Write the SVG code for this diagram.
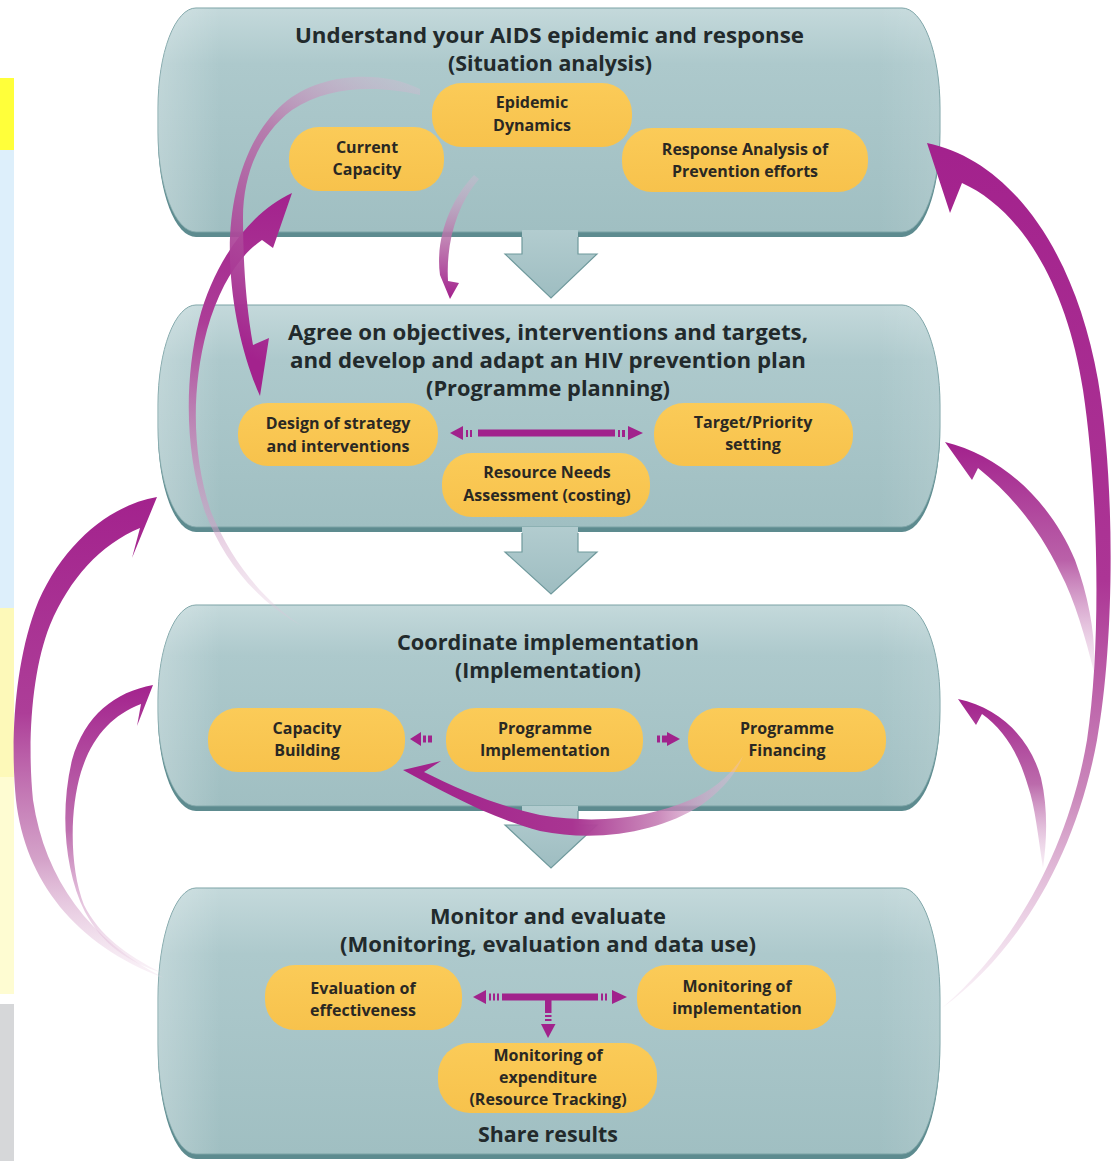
<svg xmlns="http://www.w3.org/2000/svg" width="1111" height="1161" viewBox="0 0 1111 1161">
<defs>
<linearGradient id="boxg" x1="0" y1="0" x2="0" y2="1">
<stop offset="0" stop-color="#c4d9db"/>
<stop offset="0.25" stop-color="#adc9cc"/>
<stop offset="1" stop-color="#a0bfc2"/>
</linearGradient>
<linearGradient id="boxh" x1="0" y1="0" x2="1" y2="0">
<stop offset="0" stop-color="#ffffff" stop-opacity="0.25"/>
<stop offset="0.08" stop-color="#ffffff" stop-opacity="0"/>
<stop offset="0.92" stop-color="#ffffff" stop-opacity="0"/>
<stop offset="1" stop-color="#ffffff" stop-opacity="0.12"/>
</linearGradient>
<linearGradient id="arrg" x1="0" y1="0" x2="0" y2="1">
<stop offset="0" stop-color="#b2cccf"/>
<stop offset="1" stop-color="#9ebdc1"/>
</linearGradient>
<linearGradient id="pillg" x1="0" y1="0" x2="0" y2="1">
<stop offset="0" stop-color="#fbcb58"/>
<stop offset="1" stop-color="#f7c24c"/>
</linearGradient>
<linearGradient id="gA" gradientUnits="userSpaceOnUse" x1="0" y1="150" x2="0" y2="1010">
<stop offset="0" stop-color="#a3228d"/>
<stop offset="0.5" stop-color="#ac3595"/>
<stop offset="0.75" stop-color="#c173af" stop-opacity="0.85"/>
<stop offset="1" stop-color="#edd3e6" stop-opacity="0.3"/>
</linearGradient>
<linearGradient id="gB" gradientUnits="userSpaceOnUse" x1="0" y1="445" x2="0" y2="675">
<stop offset="0" stop-color="#a3228d"/>
<stop offset="0.5" stop-color="#b24f9f" stop-opacity="0.9"/>
<stop offset="1" stop-color="#e6c6df" stop-opacity="0.3"/>
</linearGradient>
<linearGradient id="gC" gradientUnits="userSpaceOnUse" x1="0" y1="700" x2="0" y2="868">
<stop offset="0" stop-color="#a3228d"/>
<stop offset="0.5" stop-color="#b45aa2" stop-opacity="0.9"/>
<stop offset="1" stop-color="#e6c6df" stop-opacity="0.3"/>
</linearGradient>
<linearGradient id="gD" gradientUnits="userSpaceOnUse" x1="0" y1="495" x2="0" y2="980">
<stop offset="0" stop-color="#a3228d"/>
<stop offset="0.45" stop-color="#ad3e98"/>
<stop offset="0.75" stop-color="#c98abb" stop-opacity="0.8"/>
<stop offset="1" stop-color="#efd9e9" stop-opacity="0.3"/>
</linearGradient>
<linearGradient id="gE" gradientUnits="userSpaceOnUse" x1="0" y1="685" x2="0" y2="975">
<stop offset="0" stop-color="#a3228d"/>
<stop offset="0.5" stop-color="#b75fa6" stop-opacity="0.9"/>
<stop offset="1" stop-color="#efd9e9" stop-opacity="0.3"/>
</linearGradient>
<linearGradient id="gF" gradientUnits="userSpaceOnUse" x1="0" y1="193" x2="0" y2="625">
<stop offset="0" stop-color="#a3228d"/>
<stop offset="0.3" stop-color="#ac3d97"/>
<stop offset="0.55" stop-color="#c07ab1" stop-opacity="0.8"/>
<stop offset="1" stop-color="#e2c6dc" stop-opacity="0.25"/>
</linearGradient>
<linearGradient id="gG" gradientUnits="userSpaceOnUse" x1="420" y1="90" x2="255" y2="360">
<stop offset="0" stop-color="#dcb8d4" stop-opacity="0.3"/>
<stop offset="0.35" stop-color="#b872a9" stop-opacity="0.85"/>
<stop offset="1" stop-color="#a3228d"/>
</linearGradient>
<linearGradient id="gH" gradientUnits="userSpaceOnUse" x1="0" y1="175" x2="0" y2="298">
<stop offset="0" stop-color="#dcb8d4" stop-opacity="0.3"/>
<stop offset="0.5" stop-color="#b872a9" stop-opacity="0.85"/>
<stop offset="1" stop-color="#a3228d"/>
</linearGradient>
<linearGradient id="gI" gradientUnits="userSpaceOnUse" x1="400" y1="0" x2="745" y2="0">
<stop offset="0" stop-color="#a1218b"/>
<stop offset="0.5" stop-color="#a93592"/>
<stop offset="0.75" stop-color="#c277b0" stop-opacity="0.85"/>
<stop offset="1" stop-color="#e8c6df" stop-opacity="0.3"/>
</linearGradient>
<style>
.shadow{fill:#5d8b8f}
.box{fill:url(#boxg);stroke:#7aa2a5;stroke-width:1}
.hl{fill:url(#boxh)}
.pill{fill:url(#pillg)}
.title{font-family:"Open Sans","Liberation Sans",sans-serif;font-weight:700;font-size:21px;fill:#222a2c;text-anchor:middle}
.pt{font-family:"Open Sans","Liberation Sans",sans-serif;font-weight:700;font-size:16px;fill:#2a2823;text-anchor:middle}
.mg{fill:#a1228c}
.dar{fill:url(#arrg)}
.dal{fill:none;stroke:#6f999c;stroke-width:1.2}
</style>
</defs>
<rect width="1111" height="1161" fill="#ffffff"/>
<g id="side-strip">
<rect x="0" y="78" width="14" height="72" fill="#ffff3a"/>
<rect x="0" y="150" width="14" height="458" fill="#ddeffb"/>
<rect x="0" y="608" width="14" height="169" fill="#fdf9b9"/>
<rect x="0" y="777" width="14" height="217" fill="#fefcd2"/>
<rect x="0" y="1004" width="14" height="157" fill="#d6d7d9"/>
</g>

<g id="box1">
<rect class="shadow" x="158" y="13" width="782" height="224" rx="38" ry="100"/>
<rect class="box" x="158" y="8" width="782" height="224" rx="38" ry="100"/>
<rect class="hl" x="158" y="8" width="782" height="224" rx="38" ry="100"/>
<text class="title" x="549.5" y="43" textLength="509" lengthAdjust="spacingAndGlyphs">Understand your AIDS epidemic and response</text>
<text class="title" x="550" y="71" textLength="204" lengthAdjust="spacingAndGlyphs">(Situation analysis)</text>
</g>
<g id="box2">
<rect class="shadow" x="158" y="310" width="782" height="222" rx="38" ry="100"/>
<rect class="box" x="158" y="305" width="782" height="222" rx="38" ry="100"/>
<rect class="hl" x="158" y="305" width="782" height="222" rx="38" ry="100"/>
<text class="title" x="548" y="340" textLength="520" lengthAdjust="spacingAndGlyphs">Agree on objectives, interventions and targets,</text>
<text class="title" x="548" y="368" textLength="516" lengthAdjust="spacingAndGlyphs">and develop and adapt an HIV prevention plan</text>
<text class="title" x="548" y="396" textLength="244" lengthAdjust="spacingAndGlyphs">(Programme planning)</text>
</g>
<g id="box3">
<rect class="shadow" x="158" y="610" width="782" height="201" rx="38" ry="95"/>
<rect class="box" x="158" y="605" width="782" height="201" rx="38" ry="95"/>
<rect class="hl" x="158" y="605" width="782" height="201" rx="38" ry="95"/>
<text class="title" x="548" y="650" textLength="302" lengthAdjust="spacingAndGlyphs">Coordinate implementation</text>
<text class="title" x="548" y="678" textLength="186" lengthAdjust="spacingAndGlyphs">(Implementation)</text>
</g>
<g id="box4">
<rect class="shadow" x="158" y="893" width="782" height="266" rx="38" ry="110"/>
<rect class="box" x="158" y="888" width="782" height="266" rx="38" ry="110"/>
<rect class="hl" x="158" y="888" width="782" height="266" rx="38" ry="110"/>
<text class="title" x="548" y="924" textLength="236" lengthAdjust="spacingAndGlyphs">Monitor and evaluate</text>
<text class="title" x="548" y="952" textLength="416" lengthAdjust="spacingAndGlyphs">(Monitoring, evaluation and data use)</text>
<text class="title" x="548" y="1142" textLength="140" lengthAdjust="spacingAndGlyphs">Share results</text>
</g>

<g id="flow-arrows">
<path class="dar" d="M522,230 L578,230 L578,254 L597,254 L551,298 L505,254 L522,254 Z"/>
<path class="dal" d="M522,237 L522,254 L505,254 L551,298 L597,254 L578,254 L578,237"/>
<path class="dar" d="M522,527 L578,527 L578,552 L597,552 L551,594 L505,552 L522,552 Z"/>
<path class="dal" d="M522,533 L522,552 L505,552 L551,594 L597,552 L578,552 L578,533"/>
<path class="dar" d="M522,806 L578,806 L578,825 L597,825 L551,868 L505,825 L522,825 Z"/>
<path class="dal" d="M522,811 L522,825 L505,825 L551,868 L597,825 L578,825 L578,811"/>
</g>

<g id="pill-epidemic"><rect class="pill" x="432" y="83" width="200" height="64" rx="30"/>
<text class="pt" x="532" y="108">Epidemic</text><text class="pt" x="532" y="131">Dynamics</text></g>
<g id="pill-capacity"><rect class="pill" x="289" y="127" width="155" height="64" rx="30"/>
<text class="pt" x="367" y="153">Current</text><text class="pt" x="367" y="175">Capacity</text></g>
<g id="pill-response"><rect class="pill" x="622" y="128" width="246" height="64" rx="30"/>
<text class="pt" x="745" y="155">Response Analysis of</text><text class="pt" x="745" y="177">Prevention efforts</text></g>

<g id="pill-design"><rect class="pill" x="238" y="403" width="200" height="63" rx="30"/>
<text class="pt" x="338" y="429">Design of strategy</text><text class="pt" x="338" y="452">and interventions</text></g>
<g id="pill-target"><rect class="pill" x="654" y="403" width="199" height="63" rx="30"/>
<text class="pt" x="753" y="428">Target/Priority</text><text class="pt" x="753" y="450">setting</text></g>
<g id="pill-resource"><rect class="pill" x="442" y="453" width="208" height="64" rx="30"/>
<text class="pt" x="547" y="478">Resource Needs</text><text class="pt" x="547" y="501">Assessment (costing)</text></g>

<g id="pill-capbuild"><rect class="pill" x="208" y="708" width="197" height="64" rx="30"/>
<text class="pt" x="307" y="734">Capacity</text><text class="pt" x="307" y="756">Building</text></g>
<g id="pill-progimpl"><rect class="pill" x="446" y="708" width="197" height="64" rx="30"/>
<text class="pt" x="545" y="734">Programme</text><text class="pt" x="545" y="756">Implementation</text></g>
<g id="pill-progfin"><rect class="pill" x="688" y="708" width="198" height="64" rx="30"/>
<text class="pt" x="787" y="734">Programme</text><text class="pt" x="787" y="756">Financing</text></g>

<g id="pill-evaluation"><rect class="pill" x="265" y="965" width="197" height="65" rx="30"/>
<text class="pt" x="363" y="994">Evaluation of</text><text class="pt" x="363" y="1016">effectiveness</text></g>
<g id="pill-monimpl"><rect class="pill" x="637" y="965" width="199" height="65" rx="30"/>
<text class="pt" x="737" y="992">Monitoring of</text><text class="pt" x="737" y="1014">implementation</text></g>
<g id="pill-monexp"><rect class="pill" x="438" y="1043" width="219" height="70" rx="32"/>
<text class="pt" x="548" y="1061">Monitoring of</text><text class="pt" x="548" y="1083">expenditure</text><text class="pt" x="548" y="1105">(Resource Tracking)</text></g>

<g id="connectors">
<polygon class="mg" points="450,433 463,426 463,440"/>
<rect class="mg" x="466" y="430" width="2" height="7"/>
<rect class="mg" x="470" y="430" width="2" height="7"/>
<rect class="mg" x="478" y="429.5" width="137" height="7"/>
<rect class="mg" x="618" y="430" width="2" height="7"/>
<rect class="mg" x="622" y="430" width="3" height="7"/>
<polygon class="mg" points="628,426 643,433 628,440"/>
<polygon class="mg" points="410,739 421,732 421,746"/>
<rect class="mg" x="423" y="735.5" width="3" height="7"/>
<rect class="mg" x="428" y="735.5" width="4" height="7"/>
<rect class="mg" x="657" y="735.5" width="3" height="7"/>
<rect class="mg" x="662" y="735.5" width="5" height="7"/>
<polygon class="mg" points="667,732 680,739 667,746"/>
<polygon class="mg" points="473,997 486,990 486,1004"/>
<rect class="mg" x="489" y="993.5" width="2" height="7"/>
<rect class="mg" x="493" y="993.5" width="2" height="7"/>
<rect class="mg" x="497" y="993.5" width="2" height="7"/>
<rect class="mg" x="502" y="993.5" width="96" height="7"/>
<rect class="mg" x="601" y="993.5" width="2" height="7"/>
<rect class="mg" x="605" y="993.5" width="2" height="7"/>
<polygon class="mg" points="612,990 627,997 612,1004"/>
<rect class="mg" x="545" y="1000" width="6.5" height="13"/>
<rect class="mg" x="545" y="1015" width="6.5" height="2"/>
<rect class="mg" x="545" y="1019" width="6.5" height="2"/>
<polygon class="mg" points="541,1024 555.5,1024 548,1038"/>
<path fill="url(#gA)" d="M927,143 C1010,160 1075,250 1098,380 C1115,480 1115,640 1097,740 C1077,850 1022,950 942,1008 C1012,948 1068,852 1087,740 C1102,640 1098,490 1083,390 C1066,280 1018,208 962,183 L950,213 Z"/>
<path fill="url(#gB)" d="M945,442 C1000,455 1050,500 1075,560 C1090,600 1096,640 1094,672 C1086,640 1075,600 1060,572 C1040,530 1012,495 978,468 L972,480 Z"/>
<path fill="url(#gC)" d="M958,699 C1000,708 1030,738 1041,778 C1048,808 1047,840 1043,868 C1038,836 1035,806 1028,786 C1018,752 1004,730 982,714 L976,725 Z"/>
<path fill="url(#gD)" d="M157,497 C110,505 60,545 35,610 C15,665 10,740 16,800 C25,880 75,945 164,978 C90,940 45,880 33,800 C27,740 32,670 50,625 C70,578 100,545 140,528 L132,558 Z"/>
<path fill="url(#gE)" d="M153,685 C115,692 85,715 72,760 C60,810 64,870 85,912 C103,945 128,962 162,973 C126,955 99,935 84,905 C70,870 69,812 81,772 C92,737 112,715 141,704 L137,726 Z"/>
<path fill="url(#gF)" d="M292,193 C250,212 214,262 199,320 C184,382 185,452 205,512 C224,562 258,602 302,626 C263,600 232,562 211,512 C192,455 191,390 207,330 C220,284 240,255 262,240 L273,248 Z"/>
<path fill="url(#gG)" d="M420,89 C380,69 318,73 283,104 C244,139 228,200 230,260 C232,312 244,360 260,396 L269,338 L253,345 C246,305 243,262 243,218 C243,172 261,133 292,110 C330,84 382,86 420,95 Z"/>
<path fill="url(#gH)" d="M474,175 C450,200 435,240 440,275 L450,299 L459,283 L448,281 C446,246 455,207 479,179 Z"/>
<path fill="url(#gI)" d="M403,770 C440,790 490,818 540,831 C600,843 660,831 700,806 C720,792 735,776 743,756 C730,776 713,790 690,800 C650,817 600,825 540,815 C495,805 460,790 424,772 L441,761 Z"/>
</g>
</svg>
